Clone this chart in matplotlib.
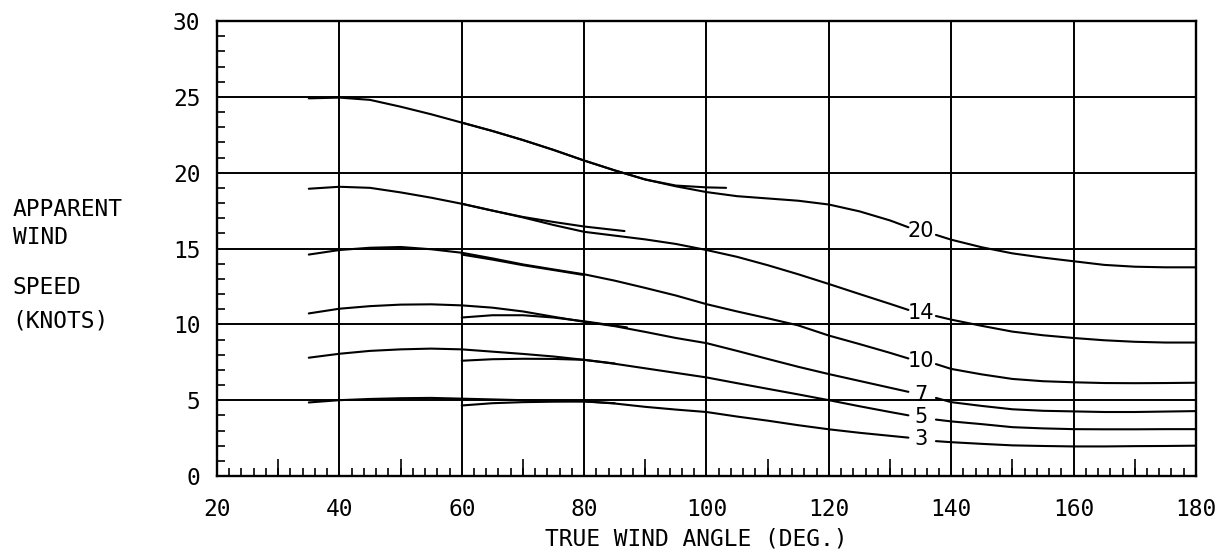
"""Apparent wind speed vs true wind angle, one curve per true wind speed"""
import matplotlib
matplotlib.use("Agg")
import matplotlib.pyplot as plt
from matplotlib.ticker import MultipleLocator

# angles for the part of each curve left and right of its label
angle_left = [35, 40, 45, 50, 55, 60, 65, 70, 75, 80, 85, 90, 95, 100,
              105, 110, 115, 120, 125, 130, 133]
angle_right = [137.5, 140, 145, 150, 155, 160, 165, 170, 175, 180]

tws_labels = ["20", "14", "10", "7", "5", "3"]

aws20_left = [24.9, 24.95, 24.8, 24.35, 23.85, 23.3, 22.75, 22.15, 21.5, 20.8, 20.15,
              19.55, 19.1, 18.72, 18.45, 18.3, 18.15, 17.9, 17.45, 16.85, 16.4]
aws20_right = [15.9, 15.58, 15.08, 14.68, 14.4, 14.16, 13.92, 13.8, 13.76, 13.76]

aws14_left = [18.94, 19.07, 19.0, 18.7, 18.35, 17.95, 17.5, 17.05, 16.55, 16.1, 15.85,
              15.6, 15.3, 14.9, 14.45, 13.9, 13.3, 12.66, 12.0, 11.35, 10.95]
aws14_right = [10.55, 10.31, 9.9, 9.52, 9.28, 9.1, 8.95, 8.85, 8.8, 8.8]

aws10_left = [14.6, 14.9, 15.05, 15.1, 14.95, 14.72, 14.35, 13.95, 13.62, 13.3, 12.88,
              12.4, 11.9, 11.33, 10.85, 10.4, 9.93, 9.26, 8.7, 8.12, 7.75]
aws10_right = [7.38, 7.06, 6.7, 6.4, 6.25, 6.18, 6.13, 6.12, 6.13, 6.15]

aws7_left = [10.72, 11.03, 11.2, 11.3, 11.32, 11.25, 11.1, 10.85, 10.5, 10.17, 9.88,
             9.5, 9.1, 8.76, 8.25, 7.72, 7.2, 6.72, 6.27, 5.82, 5.55]
aws7_right = [5.15, 4.87, 4.62, 4.4, 4.3, 4.26, 4.22, 4.22, 4.25, 4.28]

aws5_left = [7.8, 8.06, 8.25, 8.35, 8.4, 8.35, 8.2, 8.05, 7.88, 7.66, 7.4,
             7.1, 6.8, 6.5, 6.12, 5.75, 5.38, 5.0, 4.6, 4.22, 4.0]
aws5_right = [3.72, 3.6, 3.42, 3.22, 3.14, 3.09, 3.08, 3.08, 3.09, 3.09]

aws3_left = [4.85, 5.0, 5.08, 5.13, 5.15, 5.1, 5.05, 5.0, 4.97, 4.93, 4.78,
             4.56, 4.38, 4.22, 3.92, 3.65, 3.35, 3.08, 2.85, 2.65, 2.53]
aws3_right = [2.3, 2.23, 2.12, 2.02, 1.98, 1.95, 1.95, 1.97, 1.98, 2.0]

# second runs drawn from 60 deg (overplotted pieces)
alt20_angle = [60, 65, 70, 75, 80, 85, 90, 95, 100, 103.2]
alt20 = [23.3, 22.75, 22.15, 21.5, 20.8, 20.15, 19.55, 19.15, 19.03, 19.0]
alt14_angle = [60, 65, 70, 75, 80, 86.6]
alt14 = [17.95, 17.5, 17.08, 16.75, 16.45, 16.15]
alt10_angle = [60, 65, 70, 75, 80]
alt10 = [14.6, 14.27, 13.9, 13.58, 13.25]
alt7_angle = [60, 65, 70, 75, 80, 87]
alt7 = [10.45, 10.6, 10.6, 10.45, 10.2, 9.8]
alt5_angle = [60, 65, 70, 75, 80, 85]
alt5 = [7.6, 7.7, 7.73, 7.72, 7.66, 7.42]
alt3_angle = [60, 65, 70, 75, 80, 85]
alt3 = [4.65, 4.8, 4.87, 4.9, 4.91, 4.8]

x_ticks = list(range(20, 181, 20))
y_ticks = list(range(0, 31, 5))
mid_ticks = list(range(30, 180, 20))

MONO = "DejaVu Sans Mono"
FS = 16.5
LW = 1.5

fig = plt.figure(figsize=(12.24, 5.57), dpi=100)
ax = fig.add_axes([0.1773, 0.1454, 0.7998, 0.8169])

lefts = [aws20_left, aws14_left, aws10_left, aws7_left, aws5_left, aws3_left]
rights = [aws20_right, aws14_right, aws10_right, aws7_right, aws5_right, aws3_right]
for label, yl, yr in zip(tws_labels, lefts, rights):
    ax.plot(angle_left, yl, color="black", lw=LW, solid_capstyle="round")
    ax.plot(angle_right, yr, color="black", lw=LW, solid_capstyle="round")
    ax.text(135, (yl[-1] + yr[0]) / 2, label, ha="center", va="center",
            fontsize=15, family="DejaVu Sans")

for xs, ys in [(alt20_angle, alt20), (alt14_angle, alt14), (alt10_angle, alt10),
               (alt7_angle, alt7), (alt5_angle, alt5), (alt3_angle, alt3)]:
    ax.plot(xs, ys, color="black", lw=LW, solid_capstyle="round")

ax.set_xlim(20, 180)
ax.set_ylim(0, 30)
ax.set_xticks(x_ticks)
ax.set_yticks(y_ticks)
ax.xaxis.set_minor_locator(MultipleLocator(2))
ax.yaxis.set_minor_locator(MultipleLocator(1))
ax.grid(which="major", color="black", lw=1.4)
ax.tick_params(which="major", length=0)
ax.tick_params(axis="x", which="major", pad=16)
ax.tick_params(axis="y", which="major", pad=12)
ax.tick_params(which="minor", direction="in", length=6, width=1.2, color="black")
for lab in ax.get_xticklabels() + ax.get_yticklabels():
    lab.set_family(MONO)
    lab.set_fontsize(FS)
for sp in ax.spines.values():
    sp.set_linewidth(1.7)

# taller ticks on the odd tens
sec = ax.secondary_xaxis("bottom")
sec.set_xticks(mid_ticks)
sec.tick_params(direction="in", length=12, width=1.2, labelbottom=False)
sec.spines["bottom"].set_visible(False)

for txt, y in [("APPARENT", 0.623), ("WIND", 0.5745), ("SPEED", 0.4847), ("(KNOTS)", 0.4237)]:
    fig.text(0.0104, y, txt, ha="left", va="center", fontsize=FS, family=MONO)
fig.text(0.569, 0.0323, "TRUE WIND ANGLE (DEG.)", ha="center", va="center",
         fontsize=FS, family=MONO)

fig.savefig("out.png", dpi=100, facecolor="white")
